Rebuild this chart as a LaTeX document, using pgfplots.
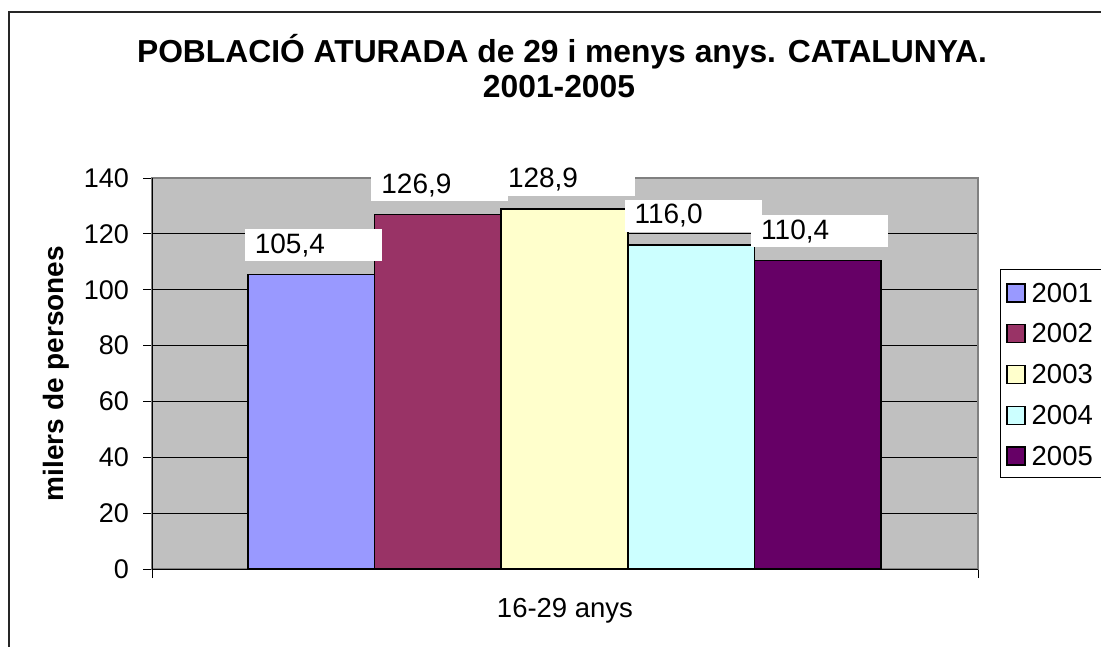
\documentclass[border=0pt]{standalone}
\usepackage{fontspec}
\setmainfont{Liberation Sans}
\usepackage{pgfplots}
\pgfplotsset{compat=1.18}
\definecolor{cA}{HTML}{9999FF}
\definecolor{cB}{HTML}{993366}
\definecolor{cC}{HTML}{FFFFCC}
\definecolor{cD}{HTML}{CCFFFF}
\definecolor{cE}{HTML}{660066}
\definecolor{plotgray}{HTML}{C0C0C0}
\definecolor{bordergray}{HTML}{808080}
\pgfplotsset{
  mybar/.style={ybar, bar width=126.6, bar shift=0pt, draw=black, line width=1.5pt,
    legend image code/.code={\draw[##1, line width=1.3pt] (0pt,-10pt) rectangle (18pt,8pt);}},
}
\begin{document}
\begin{tikzpicture}[x=1pt,y=1pt]
\useasboundingbox (0,0) rectangle (1101,646);
\draw[line width=1.2pt, black!85] (9,-20) -- (9,634) -- (1120,634);
\node[anchor=base, font=\fontsize{31.8}{35}\selectfont\bfseries] at (562,583) {POBLACIÓ ATURADA de 29 i menys anys. CATALUNYA.};
\node[anchor=base, font=\fontsize{31.8}{35}\selectfont\bfseries] at (559,548) {2001-2005};
\begin{axis}[
  at={(152pt,77pt)}, anchor=south west,
  width=826pt, height=391pt, scale only axis,
  xmin=0, xmax=826, ymin=0, ymax=140,
  clip=false,
  /pgf/number format/assume math mode=true,
  axis background/.style={fill=plotgray},
  axis line style={draw=bordergray, line width=1.6pt},
  ytick={0,20,...,140},
  ymajorgrids, major grid style={black, line width=0.9pt},
  tick align=outside, ytick pos=left, xtick pos=bottom,
  major tick length=9pt,
  tick style={black, line width=0.9pt},
  xtick={0,826}, xticklabels={},
  extra x ticks={413}, extra x tick labels={16-29 anys},
  extra x tick style={major tick length=0pt, xticklabel style={inner sep=0pt, anchor=north, yshift=-29pt}},
  yticklabel style={font=\fontsize{27}{31}\selectfont, inner sep=0pt, anchor=east, xshift=-14pt},
  xticklabel style={font=\fontsize{27.5}{31}\selectfont},
  ylabel={milers de persones},
  every axis y label/.style={at={(axis description cs:-0.1077,0.5)}, rotate=90, anchor=base, font=\fontsize{28}{31}\selectfont\bfseries},
  legend style={at={(1.0266,0.767)}, anchor=north west, draw=black, line width=0.8pt,
    font=\fontsize{27.5}{31}\selectfont, inner xsep=6pt, inner ysep=9.5pt, row sep=14.75pt, column sep=3pt,
    nodes={inner sep=3pt, text height=20pt, text depth=0pt}},
  legend cell align=left,
  after end axis/.code={\draw[black, line width=1pt] (rel axis cs:0,1) -- (rel axis cs:0,0) -- (rel axis cs:1,0);},
]
\addplot[mybar, fill=cA] coordinates {(159.3,105.4)};
\addplot[mybar, fill=cB] coordinates {(285.9,126.9)};
\addplot[mybar, fill=cC] coordinates {(412.5,128.9)};
\addplot[mybar, fill=cD] coordinates {(539.1,116.0)};
\addplot[mybar, fill=cE] coordinates {(665.7,110.4)};
\legend{2001,2002,2003,2004,2005}
\addplot[forget plot, draw=none, mark=none, point meta=y,
  nodes near coords={\pgfmathprintnumber[fixed,fixed zerofill,precision=1,use comma]{\pgfplotspointmeta}},
  every node near coord/.style={anchor=south, yshift=13pt, xshift=2pt, fill=white,
    text width=117pt, inner xsep=10pt, inner ysep=0pt, minimum height=32pt, align=left,
    font=\fontsize{28}{31}\selectfont}]
  coordinates {(159.3,105.4) (285.9,126.9) (412.5,128.9) (539.1,116.0) (665.7,110.4)};
\end{axis}
\end{tikzpicture}
\end{document}
